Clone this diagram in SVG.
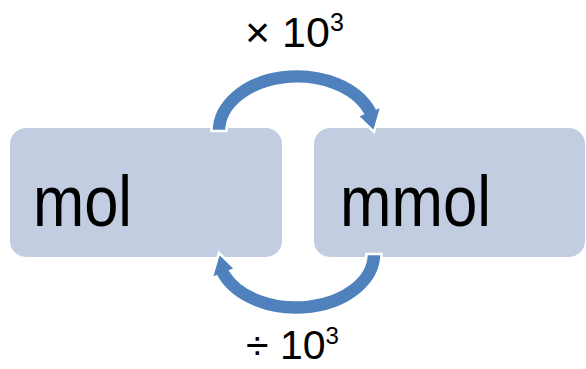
<svg xmlns="http://www.w3.org/2000/svg" width="586" height="369" viewBox="0 0 586 369">
  <style>
    .box { fill: #C3CDE2; }
    .lbl { font-family: "Liberation Sans", Arial, sans-serif; fill: #000; }
    .arrow { fill: #4F81BD; stroke: #FFFFFF; stroke-width: 2.5; stroke-linejoin: miter; }
  </style>
  <rect width="586" height="369" fill="#FFFFFF"/>
  <g id="node-mol">
    <rect class="box" x="10" y="128" width="272" height="129" rx="16" ry="16"/>
    <text class="lbl" x="33" y="226" font-size="72.6" textLength="99" lengthAdjust="spacingAndGlyphs">mol</text>
  </g>
  <g id="node-mmol">
    <rect class="box" x="314" y="128" width="271" height="129" rx="16" ry="16"/>
    <text class="lbl" x="340" y="226" font-size="72.6" textLength="151" lengthAdjust="spacingAndGlyphs">mmol</text>
  </g>
  <g id="connectors">
    <path class="arrow" d="M 211.5,131 A 85.5 62 0 0 1 376.5,108.2 L 381.6,106.2 L 374,132 L 357.5,115.8 L 362.6,113.7 A 70.5 47 0 0 0 226.5,131 Z"/>
    <path class="arrow" d="M 381.5,254 A 85.5 61 0 0 1 216.5,276.4 L 211.4,278.6 L 219,253 L 235.5,269 L 230.4,270.9 A 70.5 46 0 0 0 366.5,254 Z"/>
    <text class="lbl" x="245" y="46.7" font-size="43">× 10<tspan font-size="25" dy="-16">3</tspan></text>
    <text class="lbl" x="246" y="359" font-size="41">÷ 10<tspan font-size="24" dy="-15">3</tspan></text>
  </g>
</svg>
